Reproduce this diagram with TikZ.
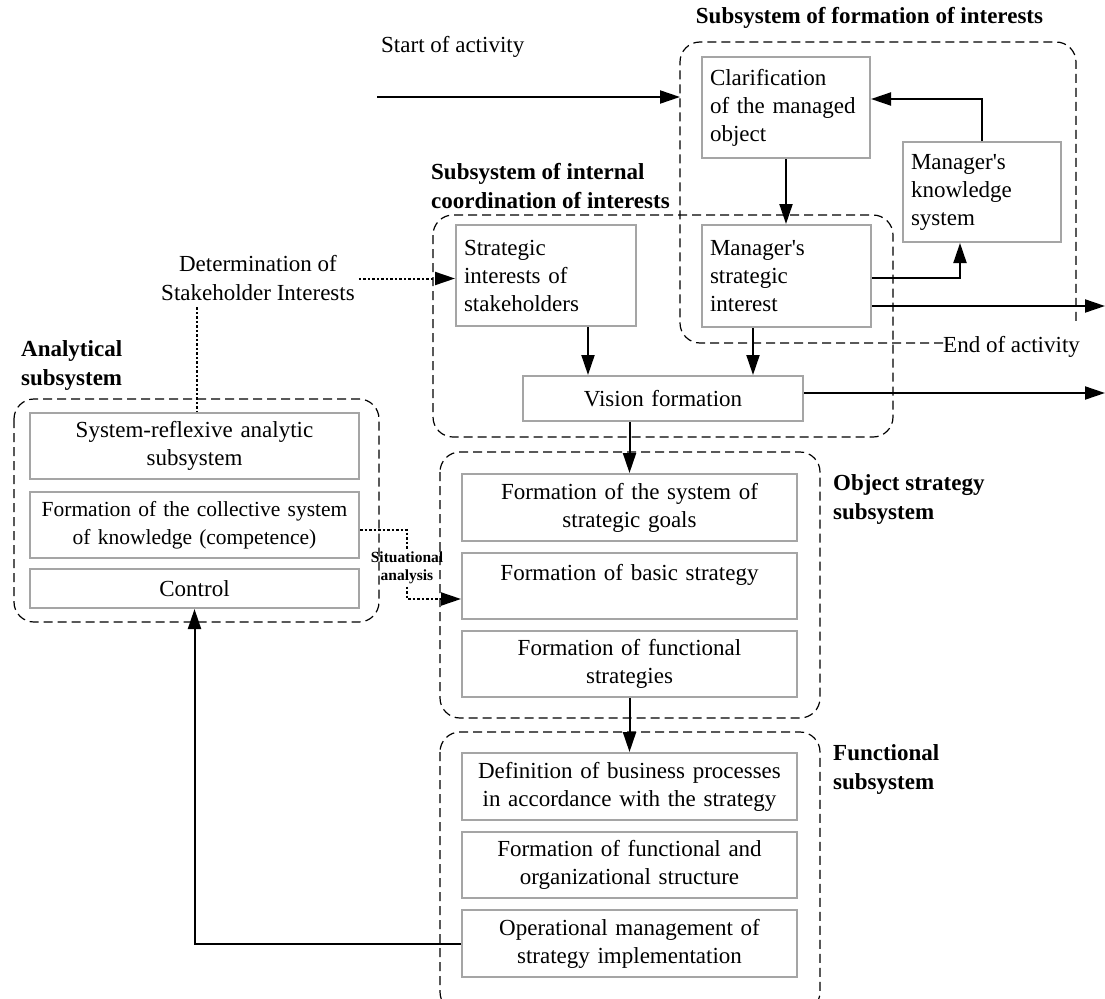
\documentclass[tikz,border=0pt]{standalone}
\usepackage{fontspec}
\setmainfont{Liberation Serif}[Ligatures=TeXOff]
\usetikzlibrary{arrows.meta,calc}
\definecolor{boxgray}{RGB}{165,165,165}
\begin{document}
\begin{tikzpicture}[x=1pt,y=-1pt,
  box/.style={draw=boxgray, line width=2pt, inner xsep=8pt, inner ysep=0pt, align=center, font=\fontsize{23}{28}\selectfont},
  lbox/.style={box, align=left},
  grp/.style={draw=black, line width=1.2pt, dash pattern=on 9pt off 5pt, rounded corners=20pt},
  arr/.style={line width=2pt, -{Triangle[length=20pt,width=13pt]}},
  darr/.style={line width=2pt, dash pattern=on 2.5pt off 2pt, -{Triangle[length=20pt,width=13pt]}},
  dline/.style={line width=2pt, dash pattern=on 2.5pt off 2pt},
  ttl/.style={font=\fontsize{23}{29}\selectfont\bfseries, align=left, inner sep=0pt},
  lbl/.style={font=\fontsize{23}{29}\selectfont, inner sep=0pt}
]
\useasboundingbox (0,0) rectangle (1105,998);
\clip (0,0) rectangle (1105,998);
\fill[white] (0,0) rectangle (1105,998);

% boxes
\node[lbox, text width=152pt, minimum height=101pt] (clar) at (786,107.5) {Clarification\\of the managed\\object};
\node[lbox, text width=142pt, minimum height=100pt] (know) at (982,192) {Manager's\\knowledge\\system};
\node[lbox, text width=153pt, minimum height=102pt] (msi) at (786.5,276) {Manager's\\strategic\\interest};
\node[lbox, text width=164pt, minimum height=101pt] (stake) at (546,275.5) {Strategic\\interests of\\stakeholders};
\node[box, text width=264pt, minimum height=45pt] (vision) at (663,398.5) {Vision formation};
\node[box, text width=319pt, minimum height=67pt] (goals) at (629.5,507.5) {Formation of the system of\\strategic goals};
\node[box, text width=319pt, minimum height=66pt] (basic) at (629.5,586) {Formation of basic strategy\\\mbox{}};
\node[box, text width=319pt, minimum height=66pt] (funcstr) at (629.5,664) {Formation of functional\\strategies};
\node[box, text width=319pt, minimum height=67pt] (def) at (629.5,786.5) {Definition of business processes\\in accordance with the strategy};
\node[box, text width=319pt, minimum height=66pt] (org) at (629.5,865) {Formation of functional and\\organizational structure};
\node[box, text width=319pt, minimum height=67pt] (oper) at (629.5,943.5) {Operational management of\\strategy implementation};
\node[box, text width=313pt, minimum height=66pt] (sysref) at (194.5,446) {System-reflexive analytic\\subsystem};
\node[box, text width=313pt, minimum height=66pt, font=\fontsize{21.5}{28}\selectfont] (coll) at (194.5,525) {Formation of the collective system\\of knowledge (competence)};
\node[box, text width=313pt, minimum height=39pt] (ctrl) at (194.5,588.5) {Control};

% labels
\node[ttl, align=center] (t1) at (869.5,18) {Subsystem of formation of interests};
\node[lbl, anchor=west] (start) at (381,47) {Start of activity};
\node[ttl, anchor=west] (t2) at (431,186) {Subsystem of internal\\coordination of interests};
\node[ttl, anchor=west] (t3) at (21,365) {Analytical\\subsystem};
\node[ttl, anchor=west] (t4) at (833,499) {Object strategy\\subsystem};
\node[ttl, anchor=west] (t5) at (833,769) {Functional\\subsystem};
\node[lbl, align=center] (det) at (258,278.5) {Determination of\\Stakeholder Interests};
\node[lbl, anchor=west] (endact) at (943,347) {End of activity};

% connectors
\coordinate (a0) at (377,97);
\coordinate (a1) at (680,97);
\draw[arr] (a0) -- (a1);
\coordinate (k0) at (982,99);
\draw[arr] (know.north) -- (know.north |- k0) -- (clar.east |- k0);
\draw[arr] (clar.south) -- (clar.south |- msi.north);
\coordinate (k1) at (960,278);
\draw[arr] (msi.east |- k1) -- (k1) -- (know.south -| k1);
\coordinate (o1) at (1105,306);
\draw[arr] (msi.east |- o1) -- (o1);
\coordinate (o2) at (1105,393);
\draw[arr] (vision.east |- o2) -- (o2);
\coordinate (sx) at (588,0);
\draw[arr] (stake.south -| sx) -- (vision.north -| sx);
\coordinate (mx) at (753,0);
\draw[arr] (msi.south -| mx) -- (vision.north -| mx);
\draw[arr] (goals.north |- vision.south) -- (goals.north);
\draw[arr] (funcstr.south) -- (def.north);
\draw[arr] (oper.west) -| (ctrl.south);
\draw[darr] ($(det.east)+(4,0)$) -- (det.east -| stake.west);
\coordinate (dv) at (197,0);
\draw[dline] ($(det.south -| dv)+(0,6)$) -- (sysref.north -| dv);
\coordinate (s0) at ($(coll.east)+(0,5)$);
\coordinate (s1) at (407,530);
\coordinate (s2) at (407,599);
\draw[darr] (s0) -- (s1) -- (s2) -- (basic.west |- s2);
\node[font=\fontsize{15.5}{18}\selectfont\bfseries, align=center, fill=white, inner sep=1pt] (sit) at (407,568) {Situational\\analysis};

% groups
\draw[grp] (943,343) -- (680,343) -- (680,42) -- (1076,42) -- (1076,322);
\draw[grp] (433,215) rectangle (893,437);
\draw[grp] (14,399) rectangle (379,622);
\draw[grp] (440,452) rectangle (820,718);
\draw[grp] (440,732) rectangle (820,1012);
\end{tikzpicture}
\end{document}
